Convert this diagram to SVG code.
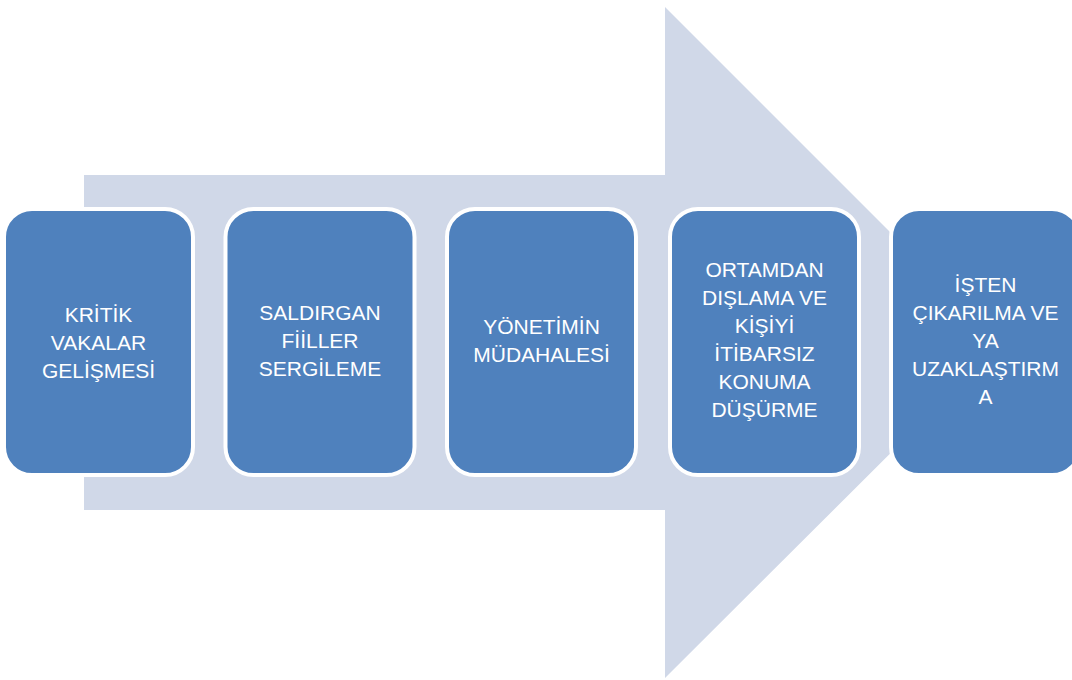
<svg xmlns="http://www.w3.org/2000/svg" width="1072" height="680" viewBox="0 0 1072 680">
<style>
.box{fill:#4F81BD;stroke:#FFFFFF;stroke-width:4}
.lbl{font-family:"Liberation Sans",Arial,sans-serif;font-size:21px;fill:#FFFFFF;text-anchor:middle}
</style>
<rect width="1072" height="680" fill="#FFFFFF"/>
<g id="arrow">
<polygon points="84,175 665,175 665,7 1001,343 665,678 665,510 84,510" fill="#D0D8E8"/>
</g>
<g id="connectors"/>
<g id="n1">
<rect class="box" x="4" y="209" width="189" height="266" rx="28"/>
<text class="lbl" x="98.5"><tspan x="98.5" y="322">KRİTİK</tspan><tspan x="98.5" y="350">VAKALAR</tspan><tspan x="98.5" y="378">GELİŞMESİ</tspan></text>
</g>
<g id="n2">
<rect class="box" x="225.5" y="209" width="189" height="266" rx="28"/>
<text class="lbl"><tspan x="320" y="320">SALDIRGAN</tspan><tspan x="320" y="348">FİİLLER</tspan><tspan x="320" y="376">SERGİLEME</tspan></text>
</g>
<g id="n3">
<rect class="box" x="447" y="209" width="189" height="266" rx="28"/>
<text class="lbl"><tspan x="541.5" y="334">YÖNETİMİN</tspan><tspan x="541.5" y="362">MÜDAHALESİ</tspan></text>
</g>
<g id="n4">
<rect class="box" x="670" y="209" width="189" height="266" rx="28"/>
<text class="lbl"><tspan x="764.5" y="277">ORTAMDAN</tspan><tspan x="764.5" y="305">DIŞLAMA VE</tspan><tspan x="764.5" y="333">KİŞİYİ</tspan><tspan x="764.5" y="361">İTİBARSIZ</tspan><tspan x="764.5" y="389">KONUMA</tspan><tspan x="764.5" y="417">DÜŞÜRME</tspan></text>
</g>
<g id="n5">
<rect class="box" x="891" y="209" width="189" height="266" rx="28"/>
<text class="lbl"><tspan x="985.5" y="292">İŞTEN</tspan><tspan x="985.5" y="320">ÇIKARILMA VE</tspan><tspan x="985.5" y="348">YA</tspan><tspan x="985.5" y="376">UZAKLAŞTIRM</tspan><tspan x="985.5" y="404">A</tspan></text>
</g>
</svg>
